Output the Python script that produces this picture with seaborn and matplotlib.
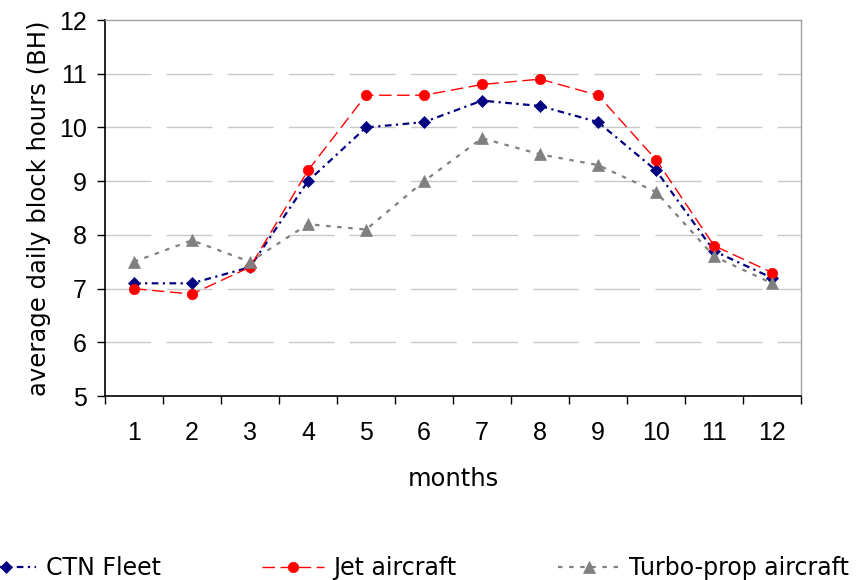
import matplotlib
matplotlib.use("Agg")
import matplotlib.pyplot as plt
import seaborn as sns
import pandas as pd
import numpy as np

months = list(range(1, 13))
ctn_fleet = [7.1, 7.1, 7.4, 9.0, 10.0, 10.1, 10.5, 10.4, 10.1, 9.2, 7.7, 7.2]
jet_aircraft = [7.0, 6.9, 7.4, 9.2, 10.6, 10.6, 10.8, 10.9, 10.6, 9.4, 7.8, 7.3]
turboprop_aircraft = [7.5, 7.9, 7.5, 8.2, 8.1, 9.0, 9.8, 9.5, 9.3, 8.8, 7.6, 7.1]
series_names = ["CTN Fleet", "Jet aircraft", "Turbo-prop aircraft"]
y_ticks = [5, 6, 7, 8, 9, 10, 11, 12]

sns.set_theme(style="white")
plt.rcParams['font.family'] = ['Liberation Sans', 'DejaVu Sans']
plt.rcParams['text.color'] = 'black'
plt.rcParams['axes.labelcolor'] = 'black'
plt.rcParams['xtick.color'] = 'black'
plt.rcParams['ytick.color'] = 'black'

df = pd.DataFrame({
    "month": months * 3,
    "value": ctn_fleet + jet_aircraft + turboprop_aircraft,
    "series": [series_names[0]] * 12 + [series_names[1]] * 12 + [series_names[2]] * 12,
})

fig = plt.figure(figsize=(8.67, 5.8), dpi=100)
ax = fig.add_axes([0.121, 0.317, 0.924 - 0.121, 0.9655 - 0.317])

styles = {
    "CTN Fleet": dict(color="#000080", marker="D", markersize=6.5, lw=1.6, dashes=(3, 2, 1, 2)),
    "Jet aircraft": dict(color="#FF0000", marker="o", markersize=7.5, lw=1.0, dashes=(9, 4)),
    "Turbo-prop aircraft": dict(color="#808080", marker="^", markersize=8.5, lw=1.6, dashes=(2, 3)),
}

for yv in y_ticks[1:-1]:
    ax.axhline(yv, color="#C8C8C8", lw=1.0, linestyle=(0, (33, 11)), zorder=0)

handles = []
for name in series_names:
    st = styles[name]
    sub = df[df["series"] == name]
    sns.lineplot(data=sub, x="month", y="value", ax=ax, color=st["color"],
                 marker=st["marker"], markersize=st["markersize"], lw=st["lw"],
                 markeredgecolor=st["color"], markeredgewidth=0.5, legend=False, zorder=3)
    line = ax.lines[-1]
    line.set_dashes(st["dashes"])
    handles.append(line)

ax.set_xlim(0.5, 12.5)
ax.set_ylim(5, 12)
ax.set_yticks(y_ticks)
ax.set_yticklabels([str(v) for v in y_ticks], fontsize=18)
ax.set_xticks(np.arange(0.5, 13, 1))
ax.set_xticklabels([])
ax.set_xticks(months, minor=True)
ax.set_xticklabels([str(m) for m in months], minor=True, fontsize=18)
ax.tick_params(axis="x", which="major", direction="out", length=6, width=1, color="#000000", bottom=True)
ax.tick_params(axis="x", which="minor", length=0, pad=18)
ax.tick_params(axis="y", direction="out", length=6, width=1, color="#000000", left=True, pad=7)

for s in ["left", "bottom"]:
    ax.spines[s].set_color("#000000")
    ax.spines[s].set_linewidth(1.2)
for s in ["top", "right"]:
    ax.spines[s].set_color("#A0A0A0")
    ax.spines[s].set_linewidth(1.0)

ax.set_xlabel("months", fontsize=17.5, family=["DejaVu Sans"], labelpad=16)
ax.set_ylabel("average daily block hours (BH)", fontsize=17.5, family=["DejaVu Sans"], labelpad=6)
ax.grid(False)

leg = fig.legend(handles, series_names, loc="center", bbox_to_anchor=(0.475, 0.02),
                 ncol=3, frameon=False, handlelength=2.6, handletextpad=0.4,
                 columnspacing=4.3, prop={"family": ["DejaVu Sans"], "size": 17})

fig.savefig("out.png", dpi=100)
